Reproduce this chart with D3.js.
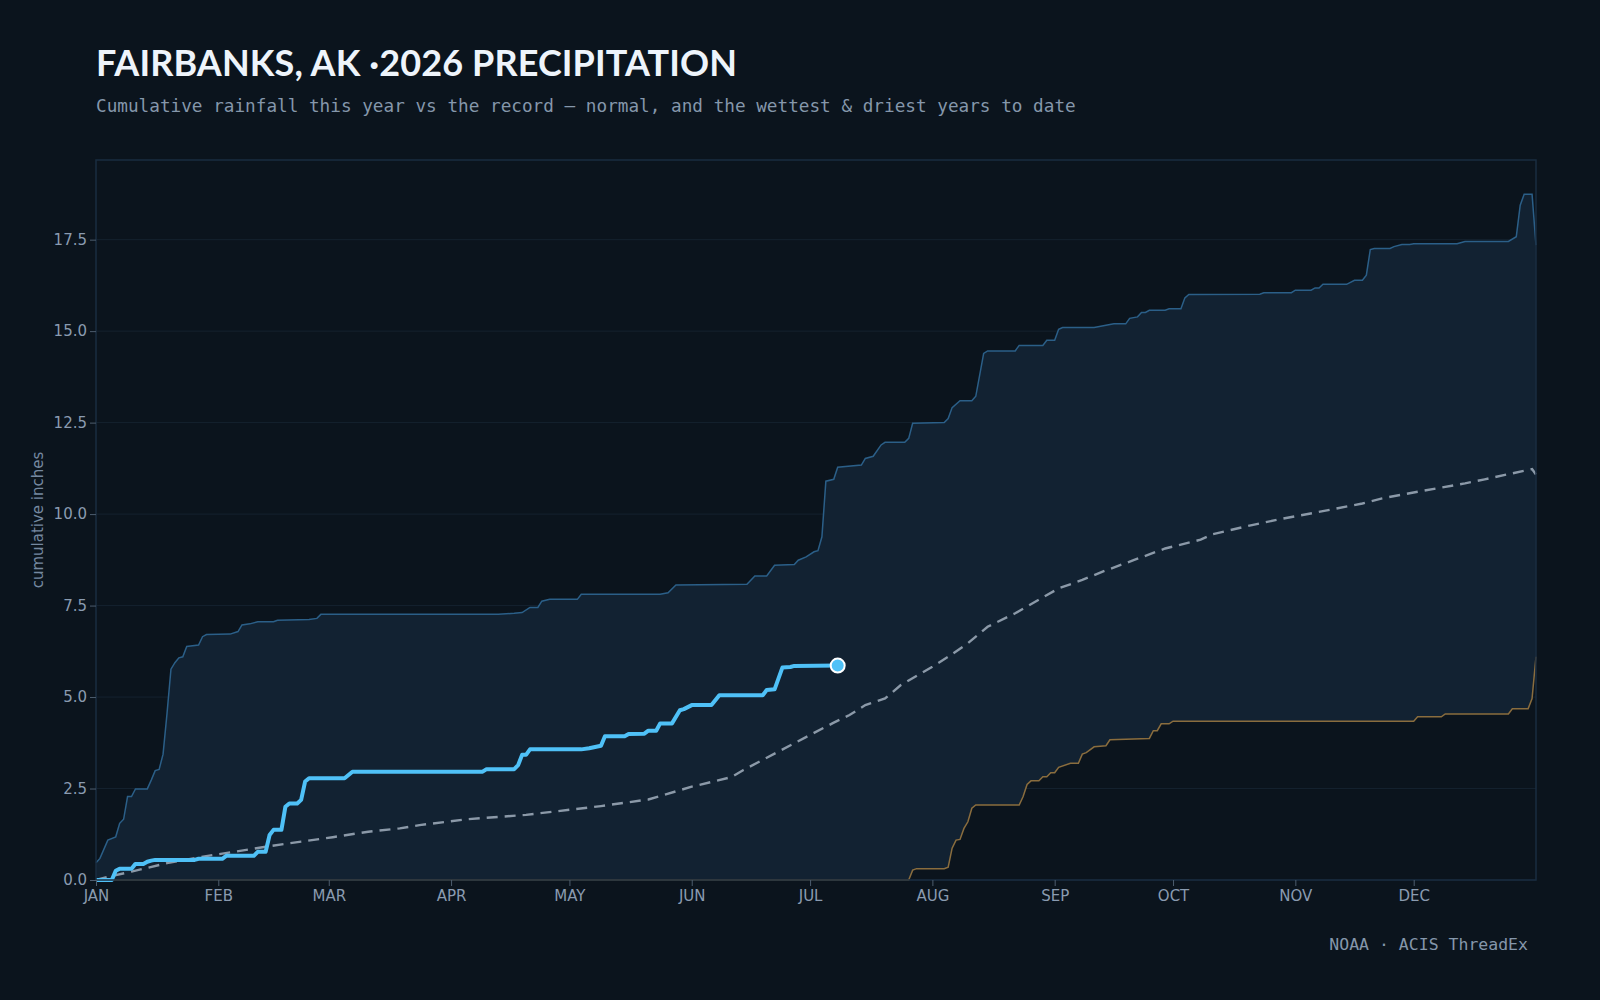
<!DOCTYPE html>
<html>
<head>
<meta charset="utf-8">
<script src="https://cdn.jsdelivr.net/npm/d3@7"></script>
<style>
  html, body { margin: 0; padding: 0; background: #0b141d; }
  svg { display: block; }
</style>
</head>
<body>
<div id="chart"></div>
<script>
// [day of year (0 = Jan 1), cumulative inches]
const thisYear = [
  [0, 0.0], [4, 0.0], [5, 0.25], [6, 0.31], [9, 0.31], [10, 0.44], [12, 0.44], [13, 0.5],
  [14, 0.53], [15, 0.55], [25, 0.55], [26, 0.58], [32, 0.58], [33, 0.66], [40, 0.66],
  [41, 0.77], [43, 0.77], [44, 1.23], [45, 1.37], [47, 1.37], [48, 2.0], [49, 2.09],
  [51, 2.09], [52, 2.19], [53, 2.69], [54, 2.78], [63, 2.78], [65, 2.96], [98, 2.96],
  [99, 3.03], [106, 3.03], [107, 3.14], [108, 3.42], [109, 3.42], [110, 3.57], [123, 3.57],
  [125, 3.6], [128, 3.67], [129, 3.93], [134, 3.93], [135, 3.99], [139, 4.0], [140, 4.08],
  [142, 4.08], [143, 4.28], [146, 4.28], [148, 4.64], [149, 4.67], [151, 4.78], [156, 4.78],
  [158, 5.05], [169, 5.05], [170, 5.19], [172, 5.21], [174, 5.81], [176, 5.82], [177, 5.85],
  [188, 5.86]
];

const normal = [
  [0, 0.0], [4, 0.11], [9, 0.23], [18, 0.46], [26, 0.62], [35, 0.77], [43, 0.91], [52, 1.05],
  [60, 1.17], [69, 1.32], [77, 1.41], [82, 1.5], [94, 1.66], [109, 1.78], [128, 2.02],
  [140, 2.2], [151, 2.55], [161, 2.81], [164, 3.0], [173, 3.51], [182, 4.02], [187, 4.3],
  [191, 4.51], [195, 4.78], [200, 4.96], [204, 5.33], [212, 5.83], [216, 6.1], [221, 6.47],
  [226, 6.92], [233, 7.29], [244, 7.97], [250, 8.2], [255, 8.42], [263, 8.74], [271, 9.06],
  [280, 9.3], [283, 9.45], [293, 9.7], [301, 9.88], [309, 10.04], [321, 10.29], [326, 10.43],
  [335, 10.61], [347, 10.84], [352, 10.95], [364, 11.23], [365, 11.08]
];

const wettest = [
  [0, 0.47], [1, 0.59], [3, 1.09], [5, 1.18], [6, 1.55], [7, 1.66], [8, 2.28], [9, 2.28],
  [10, 2.49], [13, 2.49], [14, 2.73], [15, 2.99], [16, 3.02], [17, 3.44], [18, 4.55],
  [19, 5.76], [20, 5.94], [21, 6.07], [22, 6.1], [23, 6.38], [26, 6.42], [27, 6.65],
  [28, 6.71], [34, 6.72], [36, 6.79], [37, 6.97], [39, 7.0], [41, 7.06], [45, 7.06],
  [46, 7.1], [54, 7.12], [56, 7.15], [57, 7.26], [102, 7.26], [106, 7.29], [108, 7.31],
  [110, 7.45], [112, 7.45], [113, 7.62], [115, 7.67], [122, 7.67], [123, 7.81], [143, 7.81],
  [145, 7.85], [147, 8.06], [165, 8.08], [167, 8.31], [170, 8.31], [172, 8.6], [177, 8.62],
  [178, 8.74], [180, 8.83], [182, 8.97], [183, 9.0], [184, 9.38], [185, 10.9], [187, 10.95],
  [188, 11.28], [194, 11.34], [195, 11.52], [197, 11.58], [199, 11.89], [200, 11.96],
  [205, 11.96], [206, 12.07], [207, 12.48], [215, 12.5], [216, 12.61], [217, 12.91],
  [219, 13.1], [222, 13.1], [223, 13.22], [225, 14.39], [226, 14.46], [233, 14.46],
  [234, 14.61], [240, 14.61], [241, 14.75], [243, 14.75], [244, 15.05], [245, 15.1],
  [253, 15.1], [255, 15.14], [258, 15.2], [261, 15.2], [262, 15.35], [264, 15.39],
  [265, 15.51], [266, 15.51], [267, 15.57], [271, 15.57], [272, 15.61], [275, 15.61],
  [276, 15.91], [277, 16.0], [295, 16.01], [296, 16.05], [303, 16.05], [304, 16.12],
  [308, 16.12], [309, 16.18], [310, 16.18], [311, 16.28], [317, 16.28], [319, 16.39],
  [321, 16.39], [322, 16.53], [323, 17.23], [324, 17.26], [328, 17.26], [329, 17.31],
  [331, 17.37], [333, 17.37], [334, 17.39], [345, 17.39], [347, 17.45], [358, 17.45],
  [360, 17.58], [361, 18.44], [362, 18.74], [364, 18.74], [365, 17.35]
];

const driest = [
  [0, 0.0], [206, 0.0], [207, 0.27], [208, 0.31], [215, 0.31], [216, 0.35], [217, 0.87],
  [218, 1.09], [219, 1.11], [220, 1.41], [221, 1.59], [222, 1.96], [223, 2.05], [234, 2.05],
  [235, 2.28], [236, 2.61], [237, 2.71], [239, 2.71], [240, 2.82], [241, 2.82], [242, 2.93],
  [243, 2.93], [244, 3.08], [247, 3.19], [249, 3.19], [250, 3.44], [251, 3.48], [253, 3.64],
  [256, 3.67], [257, 3.83], [267, 3.87], [268, 4.08], [269, 4.08], [270, 4.27], [272, 4.27],
  [273, 4.34], [334, 4.34], [335, 4.46], [341, 4.46], [342, 4.54], [358, 4.54], [359, 4.68],
  [363, 4.68], [364, 4.96], [365, 6.1]
];

const yTicks = [0, 2.5, 5, 7.5, 10, 12.5, 15, 17.5];
const monthLabels = ['JAN', 'FEB', 'MAR', 'APR', 'MAY', 'JUN', 'JUL', 'AUG', 'SEP', 'OCT', 'NOV', 'DEC'];

const width = 1600;
const height = 1000;
const margin = {top: 160, right: 64, bottom: 120, left: 96};
const innerW = width - margin.left - margin.right;
const innerH = height - margin.top - margin.bottom;

const dayToDate = d => new Date(2026, 0, 1 + d);

const x = d3.scaleTime()
  .domain([new Date(2026, 0, 1), new Date(2027, 0, 1)])
  .range([0, innerW]);

const yMax = d3.max(wettest, d => d[1]) * 1.05;
const y = d3.scaleLinear()
  .domain([0, yMax])
  .range([innerH, 0]);

const svg = d3.select('#chart').append('svg')
  .attr('width', width)
  .attr('height', height)
  .style('background', '#0b141d');

// title + subtitle
svg.append('text')
  .attr('x', 96)
  .attr('y', 76)
  .attr('fill', '#eef4fb')
  .style('font-family', 'Lato, "Open Sans", sans-serif')
  .style('font-weight', 700)
  .style('font-size', '36px')
  .style('letter-spacing', '0.1px')
  .text('FAIRBANKS, AK ·2026 PRECIPITATION');

svg.append('text')
  .attr('x', 96)
  .attr('y', 112)
  .attr('fill', '#8597ab')
  .style('font-family', '"DejaVu Sans Mono", monospace')
  .style('font-size', '17.7px')
  .text('Cumulative rainfall this year vs the record — normal, and the wettest & driest years to date');

const g = svg.append('g')
  .attr('transform', `translate(${margin.left},${margin.top})`);

// gridlines
g.append('g')
  .selectAll('line')
  .data(yTicks)
  .join('line')
  .attr('x1', 0)
  .attr('x2', innerW)
  .attr('y1', d => y(d))
  .attr('y2', d => y(d))
  .attr('stroke', '#15222f')
  .attr('stroke-width', 1);

const line = d3.line()
  .x(d => x(dayToDate(d[0])))
  .y(d => y(d[1]));

// record band: wettest forward, driest back
g.append('path')
  .attr('d', line(wettest.concat(driest.slice().reverse())) + 'Z')
  .attr('fill', '#122232')
  .attr('stroke', 'none');

g.append('path')
  .datum(driest)
  .attr('d', line)
  .attr('fill', 'none')
  .attr('stroke', '#8a6d3e')
  .attr('stroke-width', 1.5);

g.append('path')
  .datum(wettest)
  .attr('d', line)
  .attr('fill', 'none')
  .attr('stroke', '#2b5f88')
  .attr('stroke-width', 1.5);

g.append('path')
  .datum(normal)
  .attr('d', line)
  .attr('fill', 'none')
  .attr('stroke', '#8b99a8')
  .attr('stroke-width', 2.4)
  .attr('stroke-dasharray', '11 7');

g.append('path')
  .datum(thisYear)
  .attr('d', line)
  .attr('fill', 'none')
  .attr('stroke', '#4fc1f7')
  .attr('stroke-width', 4)
  .attr('stroke-linejoin', 'round');

const last = thisYear[thisYear.length - 1];
g.append('circle')
  .attr('cx', x(dayToDate(last[0])))
  .attr('cy', y(last[1]))
  .attr('r', 7)
  .attr('fill', '#4fc1f7')
  .attr('stroke', '#ffffff')
  .attr('stroke-width', 2);

// frame
g.append('rect')
  .attr('x', 0)
  .attr('y', 0)
  .attr('width', innerW)
  .attr('height', innerH)
  .attr('fill', 'none')
  .attr('stroke', '#1a2d40')
  .attr('stroke-width', 1.5);

// axes
const yAxis = g.append('g')
  .call(d3.axisLeft(y).tickValues(yTicks).tickFormat(d3.format('.1f')).tickSize(6).tickPadding(3));

const xAxis = g.append('g')
  .attr('transform', `translate(0,${innerH})`)
  .call(d3.axisBottom(x)
    .ticks(d3.timeMonth.every(1))
    .tickFormat(d => monthLabels[d.getMonth()])
    .tickSize(6)
    .tickPadding(4));

[yAxis, xAxis].forEach(a => {
  a.select('.domain').remove();
  a.selectAll('.tick line').attr('stroke', '#4d5d6e');
  a.selectAll('.tick text')
    .attr('fill', '#8a9bb0')
    .style('font-family', '"DejaVu Sans", sans-serif')
    .style('font-size', '15px');
});
xAxis.selectAll('.tick').filter(d => d.getFullYear() > 2026).remove();

svg.append('text')
  .attr('transform', `translate(38,${margin.top + innerH / 2}) rotate(-90)`)
  .attr('text-anchor', 'middle')
  .attr('dy', '0.35em')
  .attr('fill', '#7588a0')
  .style('font-family', '"DejaVu Sans", sans-serif')
  .style('font-size', '15px')
  .text('cumulative inches');

svg.append('text')
  .attr('x', 1528)
  .attr('y', 950)
  .attr('text-anchor', 'end')
  .attr('fill', '#8597ab')
  .style('font-family', '"DejaVu Sans Mono", monospace')
  .style('font-size', '16.5px')
  .text('NOAA · ACIS ThreadEx');
</script>
</body>
</html>
